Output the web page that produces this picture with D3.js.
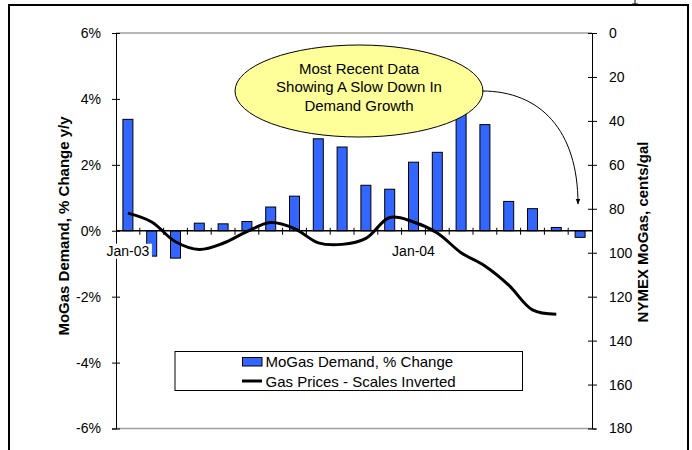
<!DOCTYPE html>
<html>
<head>
<meta charset="utf-8">
<script src="https://cdn.jsdelivr.net/npm/d3@7"></script>
<style>
  html, body { margin: 0; padding: 0; background: #fff; }
  svg { display: block; font-family: "Liberation Sans", Arial, sans-serif; }
</style>
</head>
<body>
<svg id="chart" width="692" height="450"></svg>
<script>
// ---- data ----
const months = ["Jan-03","Feb-03","Mar-03","Apr-03","May-03","Jun-03","Jul-03","Aug-03","Sep-03","Oct-03","Nov-03","Dec-03",
                "Jan-04","Feb-04","Mar-04","Apr-04","May-04","Jun-04","Jul-04","Aug-04"];
const demandPct = [3.38, -0.77, -0.83, 0.23, 0.21, 0.28, 0.72, 1.05, 2.79, 2.54, 1.38, 1.26,
                   2.08, 2.38, 4.2, 3.22, 0.89, 0.67, 0.10, -0.20];
const priceMonths = months.slice(0, 19);
const gasPrice = [82, 86, 95, 98.5, 95.7, 90.4, 86.3, 89, 95.5, 96.2, 93.5, 84,
                  86, 91, 100, 106, 114.7, 126, 128];
const leftTicks = [-6, -4, -2, 0, 2, 4, 6];
const rightTicks = [0, 20, 40, 60, 80, 100, 120, 140, 160, 180];
const xLabels = ["Jan-03", "Jan-04"];
const legendLabels = ["MoGas Demand, % Change", "Gas Prices - Scales Inverted"];
const noteLines = ["Most Recent Data", "Showing A Slow Down In", "Demand Growth"];

// ---- layout ----
const L = 116, R = 592, T = 33, B = 428.5;
const svg = d3.select("#chart");

// outer border
svg.append("rect").attr("x", 9).attr("y", 5).attr("width", 679).attr("height", 460)
  .attr("fill", "#fff").attr("stroke", "#000").attr("stroke-width", 2);
svg.append("line").attr("x1", 635).attr("x2", 635).attr("y1", 0).attr("y2", 4).attr("stroke", "#000");
svg.append("line").attr("x1", 632).attr("x2", 638).attr("y1", 4).attr("y2", 4).attr("stroke", "#000");

const x = d3.scaleBand().domain(months).range([L, R]).paddingInner(0.58).paddingOuter(0.29);
const yL = d3.scaleLinear().domain([-6, 6]).range([B, T]);
const yR = d3.scaleLinear().domain([0, 180]).range([T, B]);
const cx = d => x(d) + x.bandwidth() / 2;
const gap = (x.step() - x.bandwidth()) / 2;

// plot area border (gray)
svg.append("line").attr("x1", L).attr("x2", R).attr("y1", T).attr("y2", T).attr("stroke", "#a0a0a0").attr("stroke-width", 1.5);
svg.append("line").attr("x1", L).attr("x2", R).attr("y1", B).attr("y2", B).attr("stroke", "#a0a0a0").attr("stroke-width", 1.5);

// bars
svg.append("g").selectAll("rect").data(months).join("rect")
  .attr("x", d => x(d))
  .attr("width", x.bandwidth())
  .attr("y", (d, i) => yL(Math.max(0, demandPct[i])))
  .attr("height", (d, i) => Math.abs(yL(demandPct[i]) - yL(0)))
  .attr("fill", "#3366ff").attr("stroke", "#000").attr("stroke-width", 1);

// left axis
const axL = svg.append("g").attr("transform", `translate(${L},0)`)
  .call(d3.axisLeft(yL).tickValues(leftTicks).tickFormat(d => d + "%").tickSize(4).tickPadding(11));
axL.select(".domain").attr("stroke", "#000");
axL.selectAll(".tick line").attr("x2", 4).attr("x1", -4);
axL.selectAll("text").attr("font-size", 14).attr("font-family", "Liberation Sans, Arial").attr("fill", "#000");

// right axis
const axR = svg.append("g").attr("transform", `translate(${R},0)`)
  .call(d3.axisRight(yR).tickValues(rightTicks).tickSize(4).tickPadding(13));
axR.select(".domain").attr("stroke", "#000");
axR.selectAll(".tick line").attr("x1", -4).attr("x2", 5);
axR.selectAll("text").attr("font-size", 14).attr("font-family", "Liberation Sans, Arial").attr("fill", "#000");

// category axis at 0%
const y0 = yL(0);
svg.append("line").attr("x1", L).attr("x2", R).attr("y1", y0).attr("y2", y0).attr("stroke", "#000").attr("stroke-width", 1.5);
svg.append("g").selectAll("line").data(months.slice(1)).join("line")
  .attr("x1", d => x(d) - gap).attr("x2", d => x(d) - gap)
  .attr("y1", y0 - 3).attr("y2", y0 + 4).attr("stroke", "#000");
const lab = svg.append("g").selectAll("g").data(xLabels).join("g")
  .attr("transform", d => `translate(${cx(d)},${y0 + 25})`);
lab.append("rect").attr("x", -24).attr("y", -12).attr("width", 48).attr("height", 15).attr("fill", "#fff");
lab.append("text").attr("text-anchor", "middle").attr("font-size", 14).text(d => d);

// price line
const line = d3.line().x((d, i) => cx(priceMonths[i])).y(d => yR(d)).curve(d3.curveCatmullRom.alpha(0.5));
svg.append("path").datum(gasPrice).attr("d", line)
  .attr("fill", "none").attr("stroke", "#000").attr("stroke-width", 3);

// annotation ellipse
svg.append("ellipse").attr("cx", 359).attr("cy", 91).attr("rx", 124).attr("ry", 46)
  .attr("fill", "#ffff99").attr("stroke", "#000").attr("stroke-width", 1);
svg.append("g").selectAll("text").data(noteLines).join("text")
  .attr("x", 359).attr("y", (d, i) => 73.5 + i * 18.5)
  .attr("text-anchor", "middle").attr("font-size", 15).text(d => d);

// arrow
svg.append("defs").append("marker").attr("id", "ah").attr("viewBox", "0 0 10 10")
  .attr("refX", 9).attr("refY", 5).attr("markerWidth", 6).attr("markerHeight", 6)
  .attr("orient", "auto").append("path").attr("d", "M0,1 L10,5 L0,9 z").attr("fill", "#000");
svg.append("path").attr("d", "M482,91 C540,91 578,130 578,204")
  .attr("fill", "none").attr("stroke", "#000").attr("stroke-width", 1).attr("marker-end", "url(#ah)");

// legend
const lg = svg.append("g");
lg.append("rect").attr("x", 175).attr("y", 351.5).attr("width", 347.5).attr("height", 39)
  .attr("fill", "#fff").attr("stroke", "#000").attr("stroke-width", 1);
lg.append("rect").attr("x", 242.5).attr("y", 357.5).attr("width", 19.5).attr("height", 8.5)
  .attr("fill", "#3366ff").attr("stroke", "#000").attr("stroke-width", 1);
lg.append("line").attr("x1", 242).attr("x2", 262).attr("y1", 381).attr("y2", 381)
  .attr("stroke", "#000").attr("stroke-width", 3);
lg.selectAll("text").data(legendLabels).join("text")
  .attr("x", 265.5).attr("y", (d, i) => 367 + i * 19.5).attr("font-size", 15).text(d => d);

// axis titles
svg.append("text").attr("transform", "translate(69,226) rotate(-90)")
  .attr("text-anchor", "middle").attr("font-size", 15).attr("font-weight", "bold")
  .text("MoGas Demand, % Change y/y");
svg.append("text").attr("transform", "translate(648,232) rotate(-90)")
  .attr("text-anchor", "middle").attr("font-size", 15).attr("font-weight", "bold")
  .text("NYMEX MoGas, cents/gal");
</script>
</body>
</html>
